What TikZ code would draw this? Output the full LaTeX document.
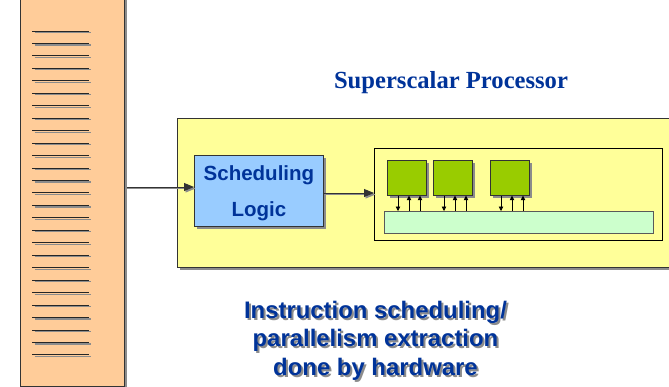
\documentclass[tikz,border=0pt]{standalone}
\usepackage{fontspec}
\setmainfont{Liberation Sans}
\newfontfamily\titleserif{Liberation Serif}
\usetikzlibrary{arrows.meta,shadows}

\definecolor{memfill}{HTML}{FFCC99}
\definecolor{procfill}{HTML}{FFFF99}
\definecolor{schedfill}{HTML}{99CCFF}
\definecolor{fufill}{HTML}{99CC00}
\definecolor{regfill}{HTML}{CCFFCC}
\definecolor{inkblue}{HTML}{003399}
\definecolor{shade}{HTML}{8C8C8C}
\definecolor{edge}{HTML}{333333}

\tikzset{
  boxshadow/.style={drop shadow={shadow xshift=2.5pt, shadow yshift=-2.5pt, fill=shade, opacity=1}},
  membar/.style={draw=edge, line width=1.2pt, fill=memfill, boxshadow, inner sep=0pt},
  procbox/.style={draw=edge, line width=0.9pt, fill=procfill, boxshadow, inner sep=0pt},
  schedbox/.style={draw=edge, line width=0.9pt, fill=schedfill, boxshadow, inner sep=0pt,
    text=inkblue, align=center, text depth=0pt, font=\fontsize{20.5}{36}\selectfont\bfseries},
  corebox/.style={draw=black, line width=1.3pt, inner sep=0pt},
  fubox/.style={draw=black!80, line width=0.7pt, fill=fufill, boxshadow, inner sep=0pt,
    minimum width=39pt, minimum height=35pt},
  busbox/.style={draw=black!65, line width=0.8pt, fill=regfill, inner sep=0pt},
  slotline/.style={draw=black!85, line width=1pt},
  slotshadow/.style={draw=shade, line width=1.2pt},
  flow/.style={draw=black!80, line width=0.9pt, -{Triangle[length=10pt,width=8pt]}},
  flowshadow/.style={draw=shade, line width=0.9pt, -{Triangle[length=10pt,width=8pt]}},
  port/.style={draw=black, line width=0.8pt, -{Triangle[length=4.5pt,width=4.5pt]}},
  caption/.style={text=inkblue, align=center, font=\fontsize{23.9}{28.5}\selectfont\bfseries},
}

\begin{document}
\begin{tikzpicture}[x=1pt,y=-1pt]
\useasboundingbox (0,0) rectangle (669,386);
\clip (0,0) rectangle (669,386);

% memory column with its instruction slots
\node[membar, minimum width=104pt, minimum height=394pt, anchor=north west] (mem) at (20,-8) {};
\foreach \i in {0,...,26} {
  \draw[slotshadow] (34.5,{32.5+12.46*\i}) -- (91,{32.5+12.46*\i});
  \draw[slotline] (32,{31+12.46*\i}) -- (89,{31+12.46*\i});
}

% processor body
\node[procbox, minimum width=520pt, minimum height=149pt, anchor=north west] (proc) at (177,118) {};
\node[font=\titleserif\fontsize{24.6}{28}\selectfont\bfseries, text=inkblue, anchor=base] (title) at (451,88) {Superscalar Processor};

% scheduling logic
\node[schedbox, minimum width=129pt, minimum height=71pt, anchor=north west] (sched) at (194,155) {Scheduling\\Logic};

% execution core: functional units over a shared register bar
\node[corebox, minimum width=288pt, minimum height=92pt, anchor=north west] (core) at (374,148) {};
\node[fubox, anchor=north west] (fuA) at (387,160) {};
\node[fubox, anchor=north west] (fuB) at (433,160) {};
\node[fubox, anchor=north west] (fuC) at (490,160) {};
\node[busbox, minimum width=269pt, minimum height=22pt, anchor=north west] (bus) at (384,211) {};

\foreach \u in {fuA,fuB,fuC} {
  \draw[port] ([xshift=11pt]\u.south west) -- ([xshift=11pt]\u.south west |- bus.north);
  \draw[port] ([xshift=22pt]\u.south west |- bus.north) -- ([xshift=22pt]\u.south west);
  \draw[port] ([xshift=33pt]\u.south west |- bus.north) -- ([xshift=33pt]\u.south west);
}

% instruction flow
\draw[flowshadow] ([xshift=2pt,yshift=-1.5pt]mem.east |- 0,187) -- ([xshift=1.5pt,yshift=-1.5pt]sched.west |- 0,187);
\draw[flow] ([xshift=2pt]mem.east |- 0,187) -- (sched.west |- 0,187);
\draw[flowshadow] ([yshift=-1.5pt]sched.east |- 0,193) -- ([xshift=1.5pt,yshift=-1.5pt]core.west |- 0,193);
\draw[flow] (sched.east |- 0,193) -- (core.west |- 0,193);

% caption with shadow (base anchor sits on the last line)
\node[caption, text=shade, anchor=base] (noteshadow) at (377.5,377) {Instruction scheduling/\\parallelism extraction\\done by hardware};
\node[caption, anchor=base] (note) at (375.5,375) {Instruction scheduling/\\parallelism extraction\\done by hardware};
\end{tikzpicture}
\end{document}
